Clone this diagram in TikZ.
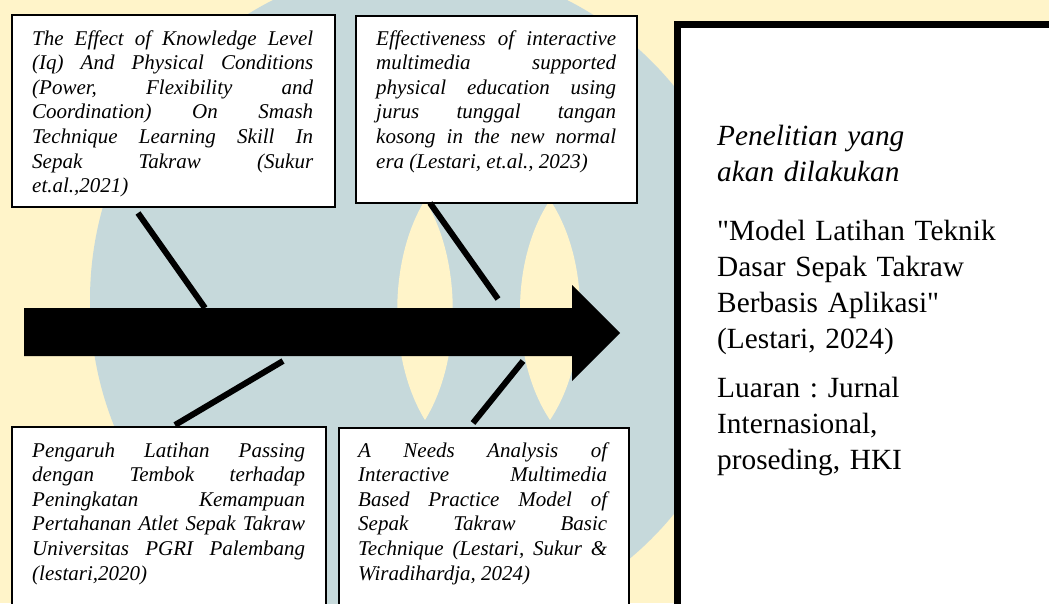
\documentclass[tikz,border=0pt]{standalone}
\usepackage{fontspec}
\setmainfont{Liberation Serif}[Ligatures=TeXOff]
\definecolor{wmcream}{HTML}{FFF4C9}
\definecolor{wmblue}{HTML}{C6D9DB}
\begin{document}
\frenchspacing
\tolerance=10000
\hbadness=10000
\begin{tikzpicture}[x=1pt,y=-1pt,
  refbox/.style={draw=black, line width=2pt, fill=white, inner sep=0pt, anchor=north west},
  bigbox/.style={draw=black, line width=7pt, fill=white, inner sep=0pt, anchor=north west},
  reftext/.style={anchor=base west, inner sep=0pt, align=justify, font=\fontsize{21}{24.6}\selectfont\itshape},
  maintext/.style={anchor=base west, inner sep=0pt, text width=320pt, align=left, font=\fontsize{29.3}{36}\selectfont},
  bone/.style={line width=6pt, draw=black}]
\useasboundingbox (0,0) rectangle (1049,603);
\clip (0,0) rectangle (1049,603);
% faint watermark background
\fill[wmcream] (0,0) rectangle (1049,603);
\fill[wmblue] (420,300) ellipse [x radius=330, y radius=335];
\fill[wmcream] (425,200) .. controls (462,260) and (462,360) .. (425,420) .. controls (388,360) and (388,260) .. (425,200);
\fill[wmcream] (550,200) .. controls (590,260) and (590,360) .. (550,420) .. controls (510,360) and (510,260) .. (550,200);
% boxes
\node[refbox, minimum width=323pt, minimum height=192pt] (b1) at (11,14) {};
\node[refbox, minimum width=281pt, minimum height=187pt] (b2) at (355,15) {};
\node[refbox, minimum width=314pt, minimum height=200pt] (b3) at (11,426) {};
\node[refbox, minimum width=290pt, minimum height=200pt] (b4) at (338,427) {};
\node[bigbox, minimum width=400pt, minimum height=590pt] (main) at (674,21) {};
% main arrow
\fill[black] (24,308) -- (572,308) -- (572,285) -- (620,333) -- (572,381) -- (572,356) -- (24,356) -- cycle;
% bones
\coordinate (l1a) at (138,213); \coordinate (l1b) at (205,308);
\coordinate (l2a) at (430,203); \coordinate (l2b) at (498,299);
\coordinate (l3a) at (283,361); \coordinate (l3b) at (175,425);
\coordinate (l4a) at (523,361); \coordinate (l4b) at (473,423);
\draw[bone] (l1a) -- (l1b);
\draw[bone] (l2a) -- (l2b);
\draw[bone] (l3a) -- (l3b);
\draw[bone] (l4a) -- (l4b);
% texts
\node[reftext, text width=281pt] (t1) at (32,45) {The Effect of Knowledge Level\linebreak
(Iq) And Physical Conditions\linebreak
(Power, Flexibility and\linebreak
Coordination) On Smash\linebreak
Technique Learning Skill In\linebreak
Sepak Takraw (Sukur\linebreak
et.al.,2021)};
\node[reftext, text width=240pt] (t2) at (376,45) {Effectiveness of interactive\linebreak
multimedia supported\linebreak
physical education using\linebreak
jurus tunggal tangan\linebreak
kosong in the new normal\linebreak
era (Lestari, et.al., 2023)};
\node[reftext, text width=273pt] (t3) at (32,457) {Pengaruh Latihan Passing\linebreak
dengan Tembok terhadap\linebreak
Peningkatan Kemampuan\linebreak
Pertahanan Atlet Sepak Takraw\linebreak
Universitas PGRI Palembang\linebreak
(lestari,2020)};
\node[reftext, text width=249pt] (t4) at (358,457) {A Needs Analysis of\linebreak
Interactive Multimedia\linebreak
Based Practice Model of\linebreak
Sepak Takraw Basic\linebreak
Technique (Lestari, Sukur \&\linebreak
Wiradihardja, 2024)};
\node[maintext] (m1) at (717,145) {\itshape Penelitian yang\\akan dilakukan};
\node[maintext] (m2) at (717,240) {"Model Latihan Teknik\\Dasar Sepak Takraw\\Berbasis Aplikasi"\\(Lestari, 2024)};
\node[maintext] (m3) at (717,397) {Luaran : Jurnal\\Internasional,\\proseding, HKI};
\end{tikzpicture}
\end{document}
